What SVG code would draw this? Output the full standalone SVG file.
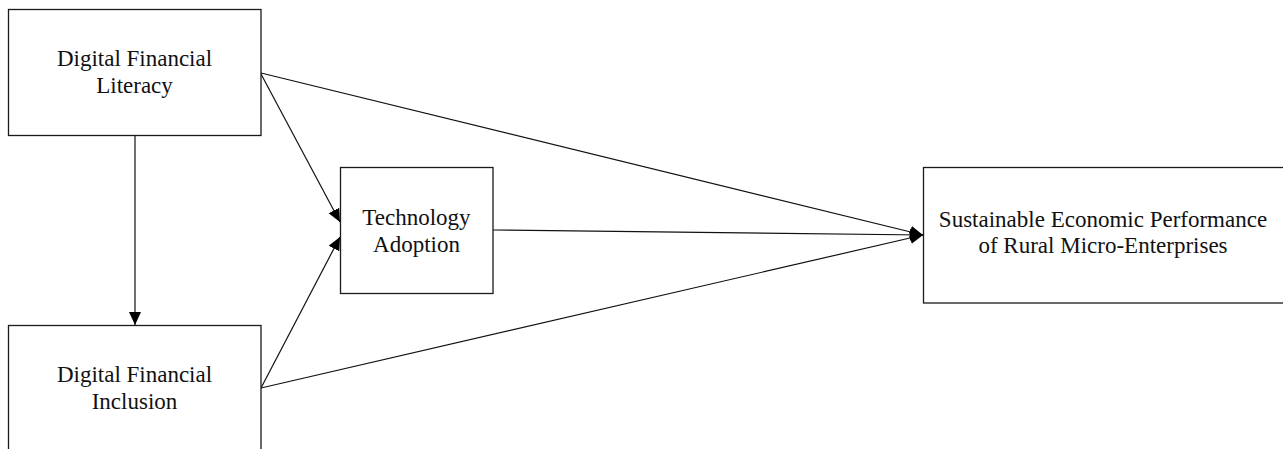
<svg xmlns="http://www.w3.org/2000/svg" width="1283" height="449" viewBox="0 0 1283 449">
<style>
.box{fill:#fff;stroke:#1a1a1a;stroke-width:1.3}
.lbl{font-family:"Liberation Serif","Times New Roman",serif;font-size:23px;fill:#111;text-anchor:middle}
.edge{stroke:#111;stroke-width:1.2;fill:none;marker-end:url(#ah)}
</style>
<defs>
<marker id="ah" markerUnits="userSpaceOnUse" markerWidth="14" markerHeight="13" refX="13" refY="6.5" orient="auto" viewBox="0 0 14 13">
<path d="M0,0.5 L13,6.5 L0,12.5 z" fill="#000"/>
</marker>
</defs>
<rect width="1283" height="449" fill="#fff"/>
<g id="connectors">
<line class="edge" x1="135" y1="136" x2="135" y2="325"/>
<line class="edge" x1="261" y1="74" x2="340" y2="222"/>
<line class="edge" x1="261" y1="388" x2="340" y2="237"/>
<line class="edge" x1="261" y1="73" x2="923" y2="235"/>
<line class="edge" x1="261" y1="388" x2="923" y2="235"/>
<line class="edge" x1="493" y1="230" x2="923" y2="235"/>
</g>
<g id="dfl">
<rect class="box" x="8.5" y="9.5" width="252.5" height="126"/>
<text class="lbl" x="134.5" y="66">Digital Financial</text>
<text class="lbl" x="134.5" y="93">Literacy</text>
</g>
<g id="dfi">
<rect class="box" x="8.5" y="325.5" width="252.5" height="140"/>
<text class="lbl" x="134.5" y="382">Digital Financial</text>
<text class="lbl" x="134.5" y="409">Inclusion</text>
</g>
<g id="ta">
<rect class="box" x="340.5" y="167.5" width="152.5" height="126"/>
<text class="lbl" x="416.5" y="225">Technology</text>
<text class="lbl" x="416.5" y="252">Adoption</text>
</g>
<g id="sep">
<rect class="box" x="923.5" y="167.5" width="370" height="135.5"/>
<text class="lbl" x="1103" y="227">Sustainable Economic Performance</text>
<text class="lbl" x="1103" y="253">of Rural Micro-Enterprises</text>
</g>
</svg>
